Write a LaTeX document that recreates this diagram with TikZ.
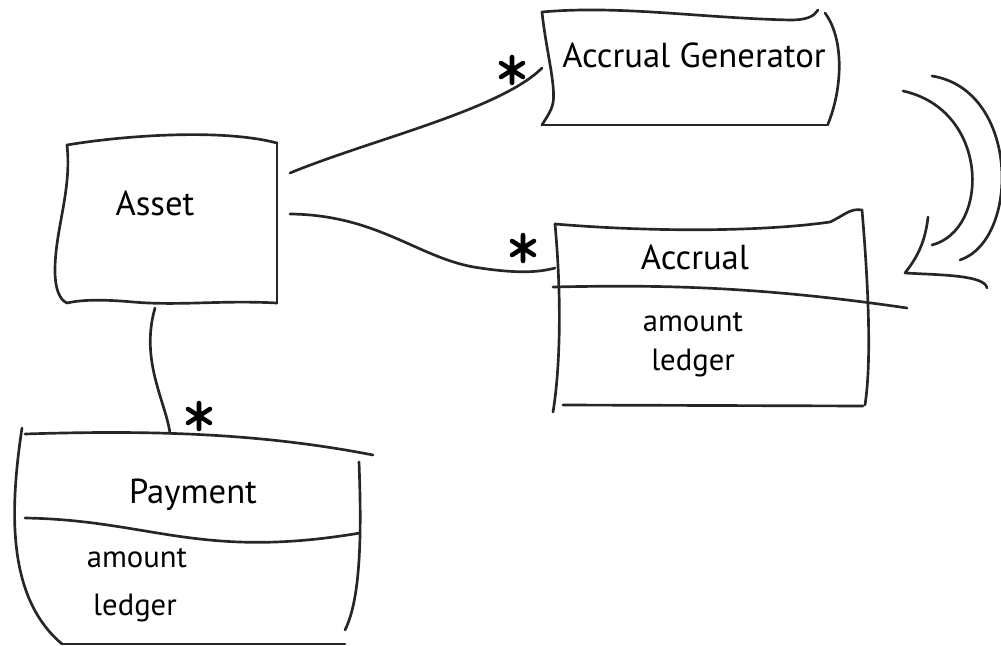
\documentclass[tikz,border=0pt]{standalone}
\usepackage{fontspec}
\setmainfont{PT Sans}
\begin{document}
\begin{tikzpicture}[x=0.75pt,y=-0.75pt, line cap=round, line join=round,
  hand/.style={draw=black!85, line width=2pt},
  clsname/.style={font=\fontsize{26}{30}\selectfont, inner sep=0pt},
  attrtxt/.style={font=\fontsize{23}{27}\selectfont, inner sep=0pt},
  astk/.pic={\draw[line width=3.4pt, black] (0,-13)--(0,13) (-11,-7)--(11,7) (-11,7)--(11,-7);}]
\useasboundingbox (0,0) rectangle (1001,646);

% Accrual Generator box
\draw[hand] (542,12) .. controls (620,5) and (700,18) .. (790,20) .. controls (808,20) and (814,16) .. (818,10);
\draw[hand] (825,13) .. controls (845,40) and (842,90) .. (828,124);
\draw[hand] (828,125) -- (542,125);
\draw[hand] (542,12) .. controls (546,50) and (556,85) .. (553,103) .. controls (551,112) and (546,118) .. (542,125);
\node[clsname] (ag) at (694,55) {Accrual Generator};

% Asset box
\draw[hand] (67,145) .. controls (120,136) and (220,128) .. (277,143);
\draw[hand] (277,143) -- (277,303);
\draw[hand] (277,303) .. controls (220,300) and (180,306) .. (133,302) .. controls (100,299) and (80,300) .. (67,303);
\draw[hand] (67,145) .. controls (72,190) and (55,230) .. (55,270) .. controls (55,290) and (60,300) .. (67,303);
\node[clsname] (asset) at (155,203) {Asset};

% Accrual box
\draw[hand] (555,224) .. controls (650,232) and (760,232) .. (830,222) .. controls (845,215) and (850,208) .. (862,210);
\draw[hand] (862,210) .. controls (868,280) and (872,360) .. (865,405);
\draw[hand] (863,406) -- (563,405);
\draw[hand] (555,224) .. controls (562,300) and (560,370) .. (553,412);
\draw[hand] (553,287) .. controls (650,285) and (750,285) .. (907,308);
\node[clsname] (accrual) at (695,257) {Accrual};
\node[attrtxt] (acam) at (693,322) {amount};
\node[attrtxt] (acle) at (693,363) {ledger};

% Payment box
\draw[hand] (25,434) .. controls (150,430) and (260,433) .. (373,455);
\draw[hand] (22,428) .. controls (8,520) and (10,600) .. (62,644);
\draw[hand] (62,644) -- (345,644);
\draw[hand] (359,462) .. controls (362,540) and (360,600) .. (345,630);
\draw[hand] (25,518) .. controls (150,520) and (200,560) .. (360,533);
\node[clsname] (payment) at (193,495) {Payment};
\node[attrtxt] (pyam) at (137,558) {amount};
\node[attrtxt] (pyle) at (135,608) {ledger};

% connector end points
\coordinate (a1) at (290,173);
\coordinate (g1) at (542,68);
\coordinate (a2) at (290,214);
\coordinate (c1) at (555,268);
\coordinate (a3) at (155,308);
\coordinate (p1) at (170,433);

\draw[hand] (a1) .. controls (370,140) and (500,110) .. (g1);
\draw[hand] (a2) .. controls (380,215) and (420,260) .. (480,268) .. controls (520,274) and (540,272) .. (c1);
\draw[hand] (a3) .. controls (140,360) and (165,400) .. (p1);

% multiplicities
\pic at (512,70) {astk};
\pic at (523,248) {astk};
\pic at (199,416) {astk};

% self arrow (hand-drawn)
\draw[hand] (903,91) .. controls (990,110) and (990,230) .. (932,245);
\draw[hand] (932,76) .. controls (1020,90) and (1020,240) .. (960,260);
\draw[hand] (928,217) .. controls (925,245) and (915,260) .. (905,273) .. controls (940,275) and (985,275) .. (987,288);
\end{tikzpicture}
\end{document}
